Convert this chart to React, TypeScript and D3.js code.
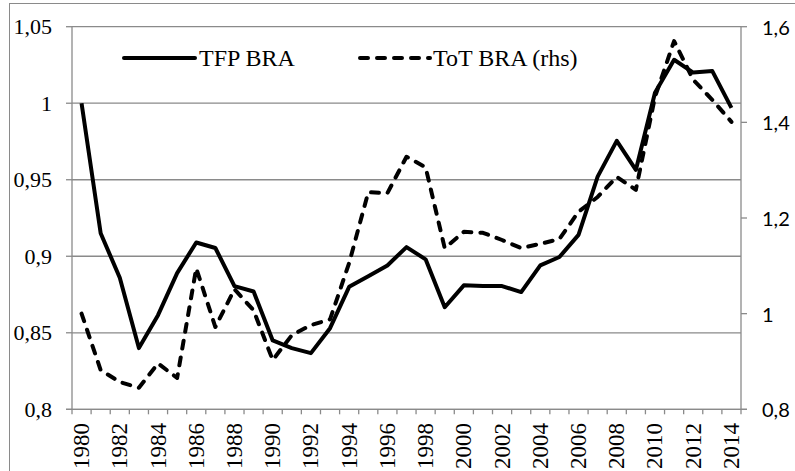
import React from "react";
import * as d3 from "d3";

const years: string[] = [
  "1980","1981","1982","1983","1984","1985","1986","1987","1988","1989",
  "1990","1991","1992","1993","1994","1995","1996","1997","1998","1999",
  "2000","2001","2002","2003","2004","2005","2006","2007","2008","2009",
  "2010","2011","2012","2013","2014",
];

const tfpBra: number[] = [
  1.0, 0.915, 0.886, 0.840, 0.8615, 0.889, 0.909, 0.9054, 0.8805, 0.877,
  0.845, 0.840, 0.8367, 0.853, 0.880, 0.887, 0.894, 0.906, 0.898, 0.8667,
  0.881, 0.8805, 0.8805, 0.8766, 0.894, 0.8995, 0.914, 0.952, 0.9754, 0.9564,
  1.0068, 1.0284, 1.020, 1.021, 0.997,
];

const totBra: number[] = [
  1.0, 0.882, 0.857, 0.845, 0.896, 0.8655, 1.095, 0.972, 1.051, 1.007,
  0.903, 0.955, 0.976, 0.988, 1.106, 1.254, 1.252, 1.328, 1.306, 1.137,
  1.171, 1.169, 1.154, 1.137, 1.146, 1.156, 1.213, 1.244, 1.286, 1.259,
  1.453, 1.570, 1.489, 1.447, 1.401,
];

const leftTicks: number[] = [0.8, 0.85, 0.9, 0.95, 1.0, 1.05];
const leftTickLabels: string[] = ["0,8", "0,85", "0,9", "0,95", "1", "1,05"];
const rightTicks: number[] = [0.8, 1.0, 1.2, 1.4, 1.6];
const rightTickLabels: string[] = ["0,8", "1", "1,2", "1,4", "1,6"];
const xLabelYears: string[] = years.filter((_, i) => i % 2 === 0);

const seriesNames: string[] = ["TFP BRA", "ToT BRA (rhs)"];

const W = 795;
const H = 471;
const PL = 72;
const PR = 741;
const PT = 26.7;
const PB = 409.3;
const GRAY = "#8a8a8a";
const SERIF = "Liberation Serif, Times New Roman, serif";
const SANS = "Lato, Open Sans, sans-serif";

export default function App() {
  const x = d3.scaleBand<string>().domain(years).range([PL, PR]).padding(0);
  const yL = d3.scaleLinear().domain([0.8, 1.05]).range([PB, PT]);
  const yR = d3.scaleLinear().domain([0.8, 1.6]).range([PB, PT]);
  const cx = (y: string) => (x(y) as number) + x.bandwidth() / 2;

  const lineL = d3
    .line<number>()
    .x((_, i) => cx(years[i]))
    .y((d) => yL(d));
  const lineR = d3
    .line<number>()
    .x((_, i) => cx(years[i]))
    .y((d) => yR(d));

  const boundaries = years.map((y) => x(y) as number).concat([PR]);
  const serifStyle = { fontFamily: SERIF };
  const sansStyle = { fontFamily: SANS };

  return (
    <svg
      width={W}
      height={H}
      style={{ position: "absolute", left: 0, top: 0, background: "#fff" }}
    >
      <rect x={0} y={0} width={W} height={H} fill="#fff" />
      <rect x={9.5} y={3.5} width={W + 20} height={H + 20} fill="none" stroke={GRAY} strokeWidth={1} />

      {leftTicks.map((t) => (
        <line key={"g" + t} x1={PL} x2={PR} y1={yL(t)} y2={yL(t)} stroke={GRAY} strokeWidth={1.3} />
      ))}

      <line x1={PL} x2={PL} y1={PT} y2={PB} stroke={GRAY} strokeWidth={1.3} />
      {leftTicks.map((t, i) => (
        <g key={"lt" + t}>
          <line x1={PL - 6} x2={PL} y1={yL(t)} y2={yL(t)} stroke={GRAY} strokeWidth={1.3} />
          <text
            x={52}
            y={yL(t)}
            textAnchor="end"
            dominantBaseline="central"
            style={serifStyle}
            fontSize={22}
            fill="#000"
          >
            {leftTickLabels[i]}
          </text>
        </g>
      ))}

      <line x1={PR} x2={PR} y1={PT} y2={PB} stroke={GRAY} strokeWidth={1.3} />
      {rightTicks.map((t, i) => (
        <g key={"rt" + t}>
          <line x1={PR} x2={PR + 6} y1={yR(t)} y2={yR(t)} stroke={GRAY} strokeWidth={1.3} />
          <text
            x={762}
            y={yR(t)}
            textAnchor="start"
            dominantBaseline="central"
            style={sansStyle}
            fontSize={20}
            fill="#000"
          >
            {rightTickLabels[i]}
          </text>
        </g>
      ))}

      <line x1={PL - 6} x2={PR + 6} y1={PB} y2={PB} stroke={GRAY} strokeWidth={1.3} />
      {boundaries.map((b, i) => (
        <line key={"xt" + i} x1={b} x2={b} y1={PB} y2={PB + 5} stroke={GRAY} strokeWidth={1.3} />
      ))}
      {xLabelYears.map((y) => (
        <text
          key={"xl" + y}
          transform={`translate(${cx(y)},${423}) rotate(-90)`}
          textAnchor="end"
          dominantBaseline="central"
          style={serifStyle}
          fontSize={23}
          fill="#000"
        >
          {y}
        </text>
      ))}

      <path
        d={lineR(totBra) || ""}
        fill="none"
        stroke="#000"
        strokeWidth={4}
        strokeDasharray="8,9"
        strokeLinecap="round"
        strokeLinejoin="round"
      />
      <path
        d={lineL(tfpBra) || ""}
        fill="none"
        stroke="#000"
        strokeWidth={4}
        strokeLinejoin="round"
      />

      <line x1={124} x2={195} y1={58} y2={58} stroke="#000" strokeWidth={4} strokeLinecap="round" />
      <text x={199} y={58} dominantBaseline="central" style={serifStyle} fontSize={24} fill="#000">
        {seriesNames[0]}
      </text>
      <line
        x1={360}
        x2={430}
        y1={58}
        y2={58}
        stroke="#000"
        strokeWidth={4}
        strokeDasharray="8,9"
        strokeLinecap="round"
      />
      <text x={433} y={58} dominantBaseline="central" style={serifStyle} fontSize={24} fill="#000">
        {seriesNames[1]}
      </text>
    </svg>
  );
}
